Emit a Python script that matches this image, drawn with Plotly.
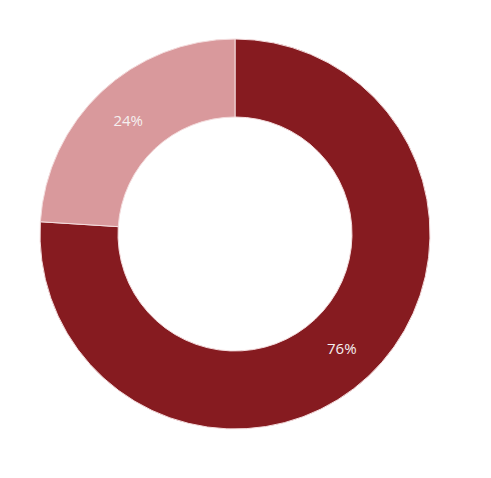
import plotly.graph_objects as go

labels = ["A", "B"]
values = [76, 24]
colors = ["#861b20", "#d9999c"]

fig = go.Figure(go.Pie(
    labels=labels, values=values,
    hole=0.6, sort=False, direction="clockwise", rotation=0,
    marker=dict(colors=colors, line=dict(color="#f4dcdd", width=1)),
    textinfo="percent", textposition="inside",
    insidetextfont=dict(color="#f5f0f0", size=15),
))
fig.update_layout(
    width=491, height=478, showlegend=False,
    margin=dict(l=32, r=69, t=31, b=57),
    paper_bgcolor="white", plot_bgcolor="white",
)
fig.write_html("out.html")
